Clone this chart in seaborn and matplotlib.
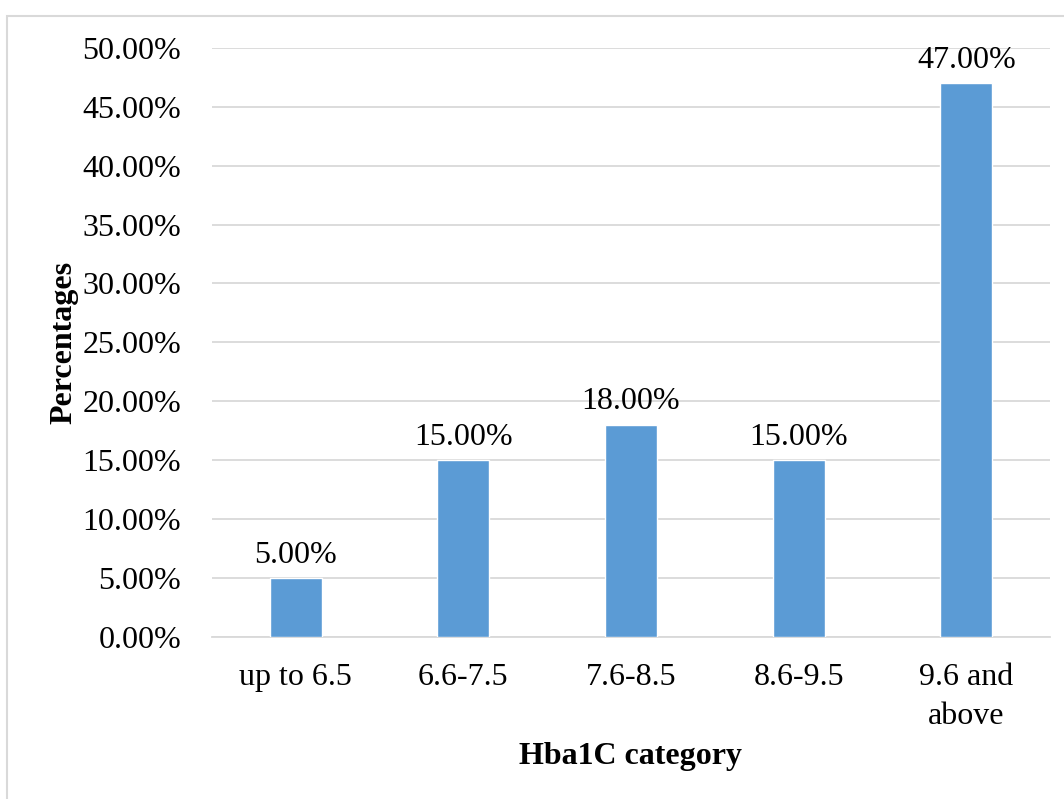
import matplotlib
matplotlib.use("Agg")
import matplotlib.pyplot as plt
import seaborn as sns
import pandas as pd
from matplotlib.patches import Rectangle

categories = ["up to 6.5", "6.6-7.5", "7.6-8.5", "8.6-9.5", "9.6 and\nabove"]
percentages = [5.0, 15.0, 18.0, 15.0, 47.0]
y_ticks = [0, 5, 10, 15, 20, 25, 30, 35, 40, 45, 50]

sns.set_theme(style="white")
plt.rcParams["font.family"] = ["Liberation Serif", "DejaVu Serif"]

FS = 23

df = pd.DataFrame({"category": categories, "pct": percentages})

fig = plt.figure(figsize=(10.64, 7.99), dpi=100)
ax = fig.add_axes([0.199, 0.203, 0.788, 0.737])

sns.barplot(data=df, x="category", y="pct", color="#5b9bd5", width=0.31,
            saturation=1, ax=ax, zorder=3)

ax.set_ylim(0, 50)
ax.set_yticks(y_ticks)
ax.set_yticklabels([f"{v:.2f}%" for v in y_ticks], fontsize=FS, color="black")
ax.tick_params(axis="x", labelsize=FS, colors="black", pad=19, length=0)
ax.tick_params(axis="y", pad=22, length=0)
for lab in ax.get_xticklabels():
    lab.set_linespacing(1.45)
    lab.set_verticalalignment("top")

ax.grid(axis="y", color="#d9d9d9", linewidth=1.3, zorder=0)
ax.set_axisbelow(True)
for side in ["top", "right", "left"]:
    ax.spines[side].set_visible(False)
ax.spines["bottom"].set_color("#d9d9d9")
ax.spines["bottom"].set_linewidth(1.3)

for i, v in enumerate(percentages):
    ax.annotate(f"{v:.2f}%", xy=(i, v), xytext=(0, 6), textcoords="offset points",
                ha="center", va="bottom", fontsize=FS, color="black")

ax.set_xlabel("Hba1C category", fontsize=FS, fontweight="bold", color="black", labelpad=8)
ax.set_ylabel("Percentages", fontsize=FS, fontweight="bold", color="black", labelpad=3)

# light frame around the chart area
fig.patches.append(Rectangle((7 / 1064, -0.05), 1.2, 1 - 16 / 799 + 0.05,
                             transform=fig.transFigure, fill=False,
                             edgecolor="#d9d9d9", linewidth=1.5))

fig.savefig("out.png", dpi=100, facecolor="white")
